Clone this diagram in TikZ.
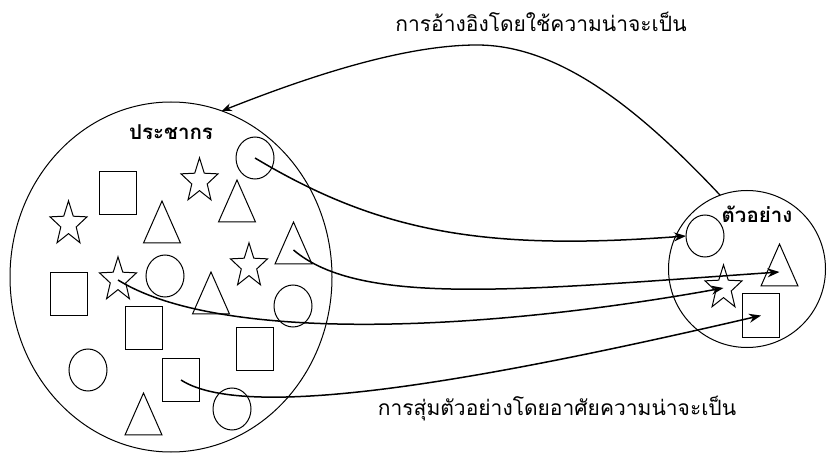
\documentclass[tikz,border=0pt]{standalone}
\usepackage{fontspec}
\newfontfamily\thaifont[Script=Thai]{Loma}
\usetikzlibrary{arrows.meta,shapes.geometric}
\tikzset{
 member/.style={draw,line width=1pt,inner sep=0,outer sep=0},
 ring/.style={member,ellipse,minimum width=38pt,minimum height=42pt},
 box/.style={member,rectangle,minimum width=37pt,minimum height=43pt},
 tri/.style={member,regular polygon,regular polygon sides=3,minimum size=42.7pt,yscale=1.31},
 fivestar/.style={member,star,star points=5,star point ratio=2.4,minimum size=38.9pt,yscale=1.19},
 group/.style={draw,line width=1pt,ellipse,inner sep=0,outer sep=0},
 sampling/.style={line width=1.5pt,-{Stealth[length=12pt,width=9pt]}},
 infer/.style={line width=1.3pt,-{Stealth[length=10pt,width=8pt]}},
 grouplabel/.style={font=\thaifont\bfseries\fontsize{20.5}{23}\selectfont},
 note/.style={font=\thaifont\fontsize{21}{24}\selectfont,anchor=base}
}
\begin{document}
\begin{tikzpicture}[x=1pt,y=-1pt]
\useasboundingbox (0,0) rectangle (827,454);
% population and sample
\node[group,minimum width=322pt,minimum height=350pt] (pop) at (171,277) {};
\node[group,circle,minimum size=157pt] (samp) at (747,269) {};
\node[grouplabel] (poplabel) at (171,132) {ประชากร};
\node[grouplabel] (samplabel) at (757,214) {ตัวอย่าง};
% members of the population
\node[ring] (pc1) at (255,158) {};
\node[ring] (pc2) at (165,276) {};
\node[ring] (pc3) at (293,306) {};
\node[ring] (pc4) at (88,370) {};
\node[ring] (pc5) at (232,409) {};
\node[box] (pb1) at (118,193) {};
\node[box] (pb2) at (69,294) {};
\node[box] (pb3) at (144,328) {};
\node[box] (pb4) at (255,349) {};
\node[box] (pb5) at (181,380) {};
\node[tri] (pt1) at (237,208) {};
\node[tri] (pt2) at (162,229) {};
\node[tri] (pt3) at (293.5,250) {};
\node[tri] (pt4) at (211,300) {};
\node[tri] (pt5) at (143.5,421) {};
\node[fivestar] (ps1) at (199.5,181) {};
\node[fivestar] (ps2) at (68.5,224) {};
\node[fivestar] (ps3) at (249,266) {};
\node[fivestar] (ps4) at (118,280) {};
% members of the sample
\node[ring] (sc) at (705,236) {};
\node[tri] (st) at (779.5,272) {};
\node[fivestar] (ss) at (723.5,288) {};
\node[box] (sb) at (761,315.5) {};
% sampling
\draw[sampling] (pc1.center) .. controls +(125,75) and +(-200,15) .. (sc.west);
\draw[sampling] (pt3.center) .. controls +(67,57) and +(-260,18) .. (st.center);
\draw[sampling] (ps4.center) .. controls +(100,62) and +(-250,45) .. (ss.center);
\draw[sampling] (pb5.center) .. controls +(69,45) and +(-250,58) .. (sb.center);
% inference
\draw[infer] (samp.110) .. controls (640,110) and (560,45) .. (477,45)
 .. controls (400,45) and (300,80) .. (pop.73);
\node[note] (infertext) at (541,32) {การอ้างอิงโดยใช้ความน่าจะเป็น};
\node[note] (samptext) at (557,415) {การสุ่มตัวอย่างโดยอาศัยความน่าจะเป็น};
\end{tikzpicture}
\end{document}
